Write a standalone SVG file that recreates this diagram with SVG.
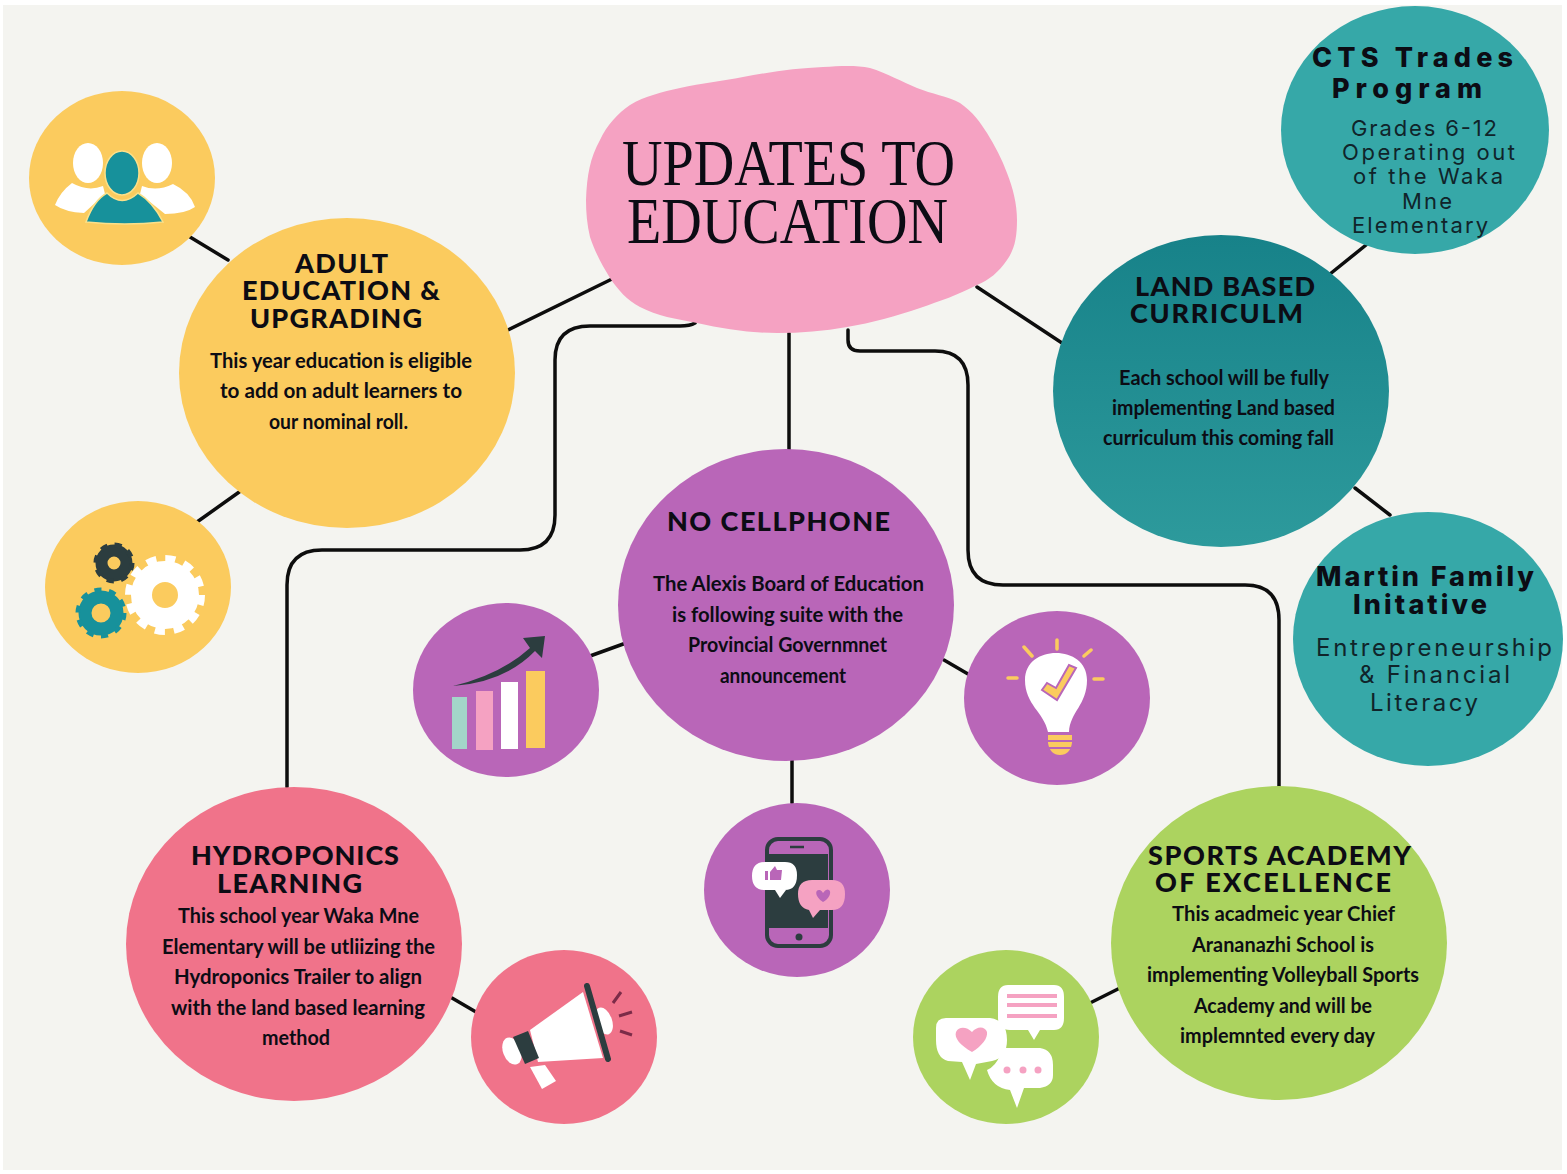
<svg xmlns="http://www.w3.org/2000/svg" width="1567" height="1174" viewBox="0 0 1567 1174">
<style>
.yel{fill:#fbcb5e}.pur{fill:#b966b8}.red{fill:#f0738a}.grn{fill:#acd35f}.w{fill:#fff}.dk{fill:#2c3d3f}.tl{fill:#17919b}.pk{fill:#f5a2c2}
.conn{fill:none;stroke:#0d0d0d;stroke-width:3.500;stroke-linecap:round}
text{fill:#0c0c14}
.title{font-family:"Liberation Serif",serif;font-size:65px}
.head{font-family:"Lato",sans-serif;font-weight:900;font-size:27px}
.body{font-family:"Lato",sans-serif;font-size:20px;font-weight:700}
.th{font-family:"Inter",sans-serif;font-weight:800;font-size:27px}
.tb{font-family:"Inter",sans-serif;font-size:22px;fill:#10242a}
.tb2{font-size:24px}
</style>
<defs>
<linearGradient id="landg" x1="0" y1="0" x2="0" y2="1"><stop offset="0" stop-color="#178289"/><stop offset="1" stop-color="#2d9a9c"/></linearGradient>
</defs>
<rect width="1567" height="1174" fill="#fff"/>
<rect x="3" y="5" width="1559" height="1165" fill="#f4f4f0"/>
<g id="connectors">
<path class="conn" d="M190 237L228 260M197 522L242 490M508 330L612 279M977 287L1062 343M789 333V450M1330 274L1366 245M1355 488L1390 515M590 656L626 643M944 660L968 674M792 760V803M452 998L476 1012M1090 1003L1122 987"/>
<path class="conn" d="M695 323Q690 326 680 326H590Q555 326 555 360V515Q555 550 520 550H322Q287 550 287 585V787"/>
<path class="conn" d="M848 330V340Q848 351 860 351H935Q968 351 968 385V550Q968 585 1003 585H1245Q1279 585 1279 620V787"/>
</g>
<g id="people">
<ellipse class="yel" cx="122" cy="178" rx="93" ry="87"/>
<ellipse class="w" cx="88" cy="163" rx="15" ry="20"/><ellipse class="w" cx="157" cy="163" rx="15" ry="20"/>
<path class="w" d="M55 205Q60 192 72 183Q88 192 103 186L105 194L84 213Q65 212 55 205Z M195 207Q190 192 173 184Q157 192 142 186L140 194L165 214Q185 214 195 207Z"/>
<ellipse class="tl" cx="122" cy="173" rx="17" ry="22" stroke="#fbe08a" stroke-width="1.500"/>
<path class="tl" d="M86 222Q94 200 107 193Q122 208 138 193Q153 202 163 222Q125 226 86 222Z" stroke="#fbe08a" stroke-width="1.500"/>
</g>
<g id="adult">
<ellipse class="yel" cx="347" cy="373" rx="168" ry="155"/>
<text class="head" x="295" y="273" textLength="93">ADULT</text>
<text class="head" x="242" y="300" textLength="198">EDUCATION &amp;</text>
<text class="head" x="250" y="328" textLength="172">UPGRADING</text>
<text class="body" x="210" y="368" textLength="262" lengthAdjust="spacingAndGlyphs">This year education is eligible</text>
<text class="body" x="220" y="398" textLength="242" lengthAdjust="spacingAndGlyphs">to add on adult learners to</text>
<text class="body" x="269" y="429" textLength="139" lengthAdjust="spacingAndGlyphs">our nominal roll.</text>
</g>
<g id="gears">
<ellipse class="yel" cx="138" cy="587" rx="93" ry="86"/>
<circle cx="114" cy="563" r="12.500" fill="none" stroke="#2c3d3f" stroke-width="12"/>
<circle cx="114" cy="563" r="18" fill="none" stroke="#2c3d3f" stroke-width="5" stroke-dasharray="7 7.14"/>
<circle cx="101" cy="613" r="16" fill="none" stroke="#17919b" stroke-width="13"/>
<circle cx="101" cy="613" r="23" fill="none" stroke="#17919b" stroke-width="5" stroke-dasharray="7 7.45"/>
<circle cx="165" cy="595" r="23.500" fill="none" stroke="#fff" stroke-width="21"/>
<circle cx="165" cy="595" r="36" fill="none" stroke="#fff" stroke-width="8" stroke-dasharray="10 8.85"/>
</g>
<g id="title-blob">
<path class="pk" d="M586 200C587 175 590 158 600 140C607 125 618 113 630 105C645 96 662 92 680 88C702 83 722 81 743 77C770 72 797 68 823 67C840 66 856 65 870 68C887 73 902 82 917 88C932 94 947 96 960 103C973 112 980 122 987 133C995 146 1002 159 1007 173C1013 188 1017 204 1017 220C1017 236 1015 249 1007 260C999 272 989 280 977 285C958 295 940 301 920 308C896 316 872 323 847 327C824 331 801 333 777 333C750 333 723 329 697 323C676 319 657 316 640 307C627 300 618 290 610 278C602 265 595 252 590 237C587 225 586 212 586 200Z"/>
<text class="title" x="622" y="185" textLength="333" lengthAdjust="spacingAndGlyphs">UPDATES TO</text>
<text class="title" x="627" y="243" textLength="321" lengthAdjust="spacingAndGlyphs">EDUCATION</text>
</g>
<g id="cts">
<ellipse cx="1415" cy="130" rx="134" ry="124" fill="#36a8a8"/>
<text class="th" x="1312" y="67" textLength="201">CTS Trades</text>
<text class="th" x="1332" y="98" textLength="150">Program</text>
<text class="tb" x="1351" y="136" textLength="146">Grades 6-12</text>
<text class="tb" x="1342" y="160" textLength="173">Operating out</text>
<text class="tb" x="1353" y="184" textLength="150">of the Waka</text>
<text class="tb" x="1402" y="209" textLength="50">Mne</text>
<text class="tb" x="1352" y="233" textLength="136">Elementary</text>
</g>
<g id="land">
<ellipse cx="1221" cy="391" rx="168" ry="156" fill="url(#landg)"/>
<text class="head" x="1135" y="296" textLength="180">LAND BASED</text>
<text class="head" x="1130" y="323" textLength="173">CURRICULM</text>
<text class="body" x="1119" y="385" textLength="210" lengthAdjust="spacingAndGlyphs">Each school will be fully</text>
<text class="body" x="1112" y="415" textLength="223" lengthAdjust="spacingAndGlyphs">implementing Land based</text>
<text class="body" x="1103" y="445" textLength="231" lengthAdjust="spacingAndGlyphs">curriculum this coming fall</text>
</g>
<g id="martin">
<ellipse cx="1428" cy="639" rx="135" ry="127" fill="#36a8a8"/>
<text class="th" x="1316" y="586" textLength="218">Martin Family</text>
<text class="th" x="1353" y="614" textLength="134">Initative</text>
<text class="tb tb2" x="1316" y="656" textLength="236">Entrepreneurship</text>
<text class="tb tb2" x="1359" y="683" textLength="151">&amp; Financial</text>
<text class="tb tb2" x="1370" y="711" textLength="108">Literacy</text>
</g>
<g id="cellphone">
<ellipse class="pur" cx="786" cy="605" rx="168" ry="156"/>
<text class="head" x="667" y="531" textLength="223">NO CELLPHONE</text>
<text class="body" x="653" y="591" textLength="271" lengthAdjust="spacingAndGlyphs">The Alexis Board of Education</text>
<text class="body" x="672" y="622" textLength="231" lengthAdjust="spacingAndGlyphs">is following suite with the</text>
<text class="body" x="688" y="652" textLength="199" lengthAdjust="spacingAndGlyphs">Provincial Governmnet</text>
<text class="body" x="720" y="683" textLength="126" lengthAdjust="spacingAndGlyphs">announcement</text>
</g>
<g id="chart">
<ellipse class="pur" cx="506" cy="690" rx="93" ry="87"/>
<rect x="452" y="697" width="15" height="52" fill="#a3d5c9"/>
<rect x="476" y="691" width="17" height="59" class="pk"/>
<rect x="501" y="682" width="17" height="67" class="w"/>
<rect x="526" y="671" width="19" height="77" class="yel"/>
<path class="dk" d="M453 686Q500 675 530 648L523 638L545 636L542 658L535 651Q505 682 453 686Z"/>
</g>
<g id="bulb">
<ellipse class="pur" cx="1057" cy="698" rx="93" ry="87"/>
<path class="w" d="M1048 732C1044 712 1025 705 1025 680C1025 662 1040 653 1056 653C1072 653 1087 662 1087 680C1087 705 1070 712 1069 732Z"/>
<path class="yel" d="M1048 735H1072V743Q1070 755 1060 755Q1050 755 1048 743Z"/>
<path d="M1048 741H1072M1048 748H1072" stroke="#b966b8" stroke-width="2"/>
<path class="yel" stroke="#b966b8" stroke-width="2" d="M1042 690L1057 700L1076 668L1069 665L1056 688L1047 683Z"/>
<path d="M1024 647L1032 656M1057 640V649M1091 650L1084 656M1008 678H1017M1094 679H1103" stroke="#fbcb5e" stroke-width="3.500" stroke-linecap="round"/>
</g>
<g id="phone">
<ellipse class="pur" cx="797" cy="890" rx="93" ry="87"/>
<rect x="767" y="839" width="64" height="107" rx="11" fill="none" stroke="#2c3d3f" stroke-width="4"/>
<rect x="769" y="854" width="59" height="74" class="dk"/>
<path d="M790 847H804" stroke="#2c3d3f" stroke-width="2.500"/>
<circle cx="799" cy="937" r="3.500" class="dk"/>
<path class="w" d="M765 862H785Q797 862 797 875Q797 890 785 890H786L780 898L775 890H765Q752 890 752 876Q752 862 765 862Z"/>
<path class="pur" d="M765 871H768V880H765ZM770 872L775 866L777 870H782L781 880H770Z"/>
<path class="pk" d="M812 880H832Q845 880 845 894Q845 910 832 910H820L813 918L809 910Q798 908 798 894Q798 880 812 880Z"/>
<path class="pur" d="M823 902C814 896 815 889 820 890Q822 891 823 893Q826 888 829 890C832 892 829 899 823 902Z"/>
</g>
<g id="hydro">
<ellipse class="red" cx="294" cy="944" rx="168" ry="157"/>
<text class="head" x="191" y="865" textLength="208">HYDROPONICS</text>
<text class="head" x="217" y="893" textLength="145">LEARNING</text>
<text class="body" x="178" y="923" textLength="241" lengthAdjust="spacingAndGlyphs">This school year Waka Mne</text>
<text class="body" x="162" y="954" textLength="273" lengthAdjust="spacingAndGlyphs">Elementary will be utliizing the</text>
<text class="body" x="174" y="984" textLength="248" lengthAdjust="spacingAndGlyphs">Hydroponics Trailer to align</text>
<text class="body" x="171" y="1015" textLength="254" lengthAdjust="spacingAndGlyphs">with the land based learning</text>
<text class="body" x="262" y="1045" textLength="68" lengthAdjust="spacingAndGlyphs">method</text>
</g>
<g id="megaphone">
<ellipse class="red" cx="564" cy="1037" rx="93" ry="87"/>
<ellipse class="w" cx="604" cy="1021" rx="8" ry="14" transform="rotate(-20 604 1021)"/>
<ellipse class="w" cx="512" cy="1051" rx="9" ry="14" transform="rotate(-20 512 1051)"/>
<path class="w" d="M530 1030L583 992L603 1058L538 1062Z"/>
<path class="w" d="M530 1067L545 1065L556 1081L542 1089Z"/>
<path class="dk" d="M513 1037L528 1031L539 1058L525 1064Z"/>
<path d="M587 986L608 1059" stroke="#2c3d3f" stroke-width="6" stroke-linecap="round"/>
<path d="M613 1003L621 992M619 1016L632 1012M620 1031L632 1035" stroke="#7c2b48" stroke-width="3"/>
</g>
<g id="sports">
<ellipse class="grn" cx="1279" cy="943" rx="168" ry="157"/>
<text class="head" x="1148" y="865" textLength="263">SPORTS ACADEMY</text>
<text class="head" x="1155" y="892" textLength="236">OF EXCELLENCE</text>
<text class="body" x="1172" y="921" textLength="223" lengthAdjust="spacingAndGlyphs">This acadmeic year Chief</text>
<text class="body" x="1192" y="952" textLength="182" lengthAdjust="spacingAndGlyphs">Arananazhi School is</text>
<text class="body" x="1147" y="982" textLength="272" lengthAdjust="spacingAndGlyphs">implementing Volleyball Sports</text>
<text class="body" x="1194" y="1013" textLength="178" lengthAdjust="spacingAndGlyphs">Academy and will be</text>
<text class="body" x="1180" y="1043" textLength="195" lengthAdjust="spacingAndGlyphs">implemnted every day</text>
</g>
<g id="speech">
<ellipse class="grn" cx="1006" cy="1037" rx="93" ry="87"/>
<path class="w" d="M1008 985H1054Q1064 985 1064 997V1018Q1064 1030 1054 1030H1040L1034 1040L1028 1030H1010Q998 1030 998 1018V997Q998 985 1008 985Z"/>
<path d="M1007 996H1057M1007 1005H1057M1007 1016H1057" stroke="#f5a2c2" stroke-width="4"/>
<path class="w" d="M946 1018H990Q1007 1020 1007 1040Q1007 1058 992 1061L976 1064L970 1080L962 1062L948 1061Q936 1058 936 1040V1028Q936 1018 946 1018Z"/>
<path class="pk" d="M972 1052C960 1045 954 1038 956 1032C959 1026 967 1027 972 1032C977 1026 985 1026 987 1032C988 1038 982 1046 972 1052Z"/>
<path class="w" d="M1005 1048H1040Q1053 1050 1053 1065V1075Q1053 1086 1040 1088H1024L1017 1108L1010 1090Q992 1088 987 1070Q996 1066 1000 1055Q1002 1050 1005 1048Z"/>
<g class="pk"><circle cx="1007" cy="1070" r="3.500"/><circle cx="1023" cy="1070" r="3.500"/><circle cx="1038" cy="1070" r="3.500"/></g>
</g>
</svg>
